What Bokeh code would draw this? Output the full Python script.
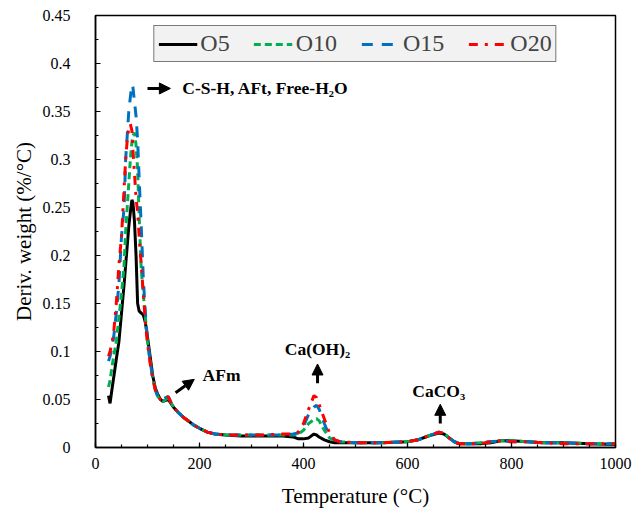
from bokeh.plotting import figure
from bokeh.models import (Range1d, SingleIntervalTicker, CustomJSTickFormatter, Legend,
                          LegendItem, Label, Arrow, NormalHead)
from bokeh.embed import file_html
from bokeh.resources import INLINE

temperature = [25, 28, 32, 35, 40, 45, 50, 55, 58, 61, 64, 67, 70, 72, 75, 78, 81, 84, 88,
               92, 96, 100, 105, 110, 115, 120, 125, 130, 135, 140, 145, 150, 160, 170, 180,
               190, 200, 215, 230, 250, 280, 320, 360, 380, 390, 400, 410, 420, 425, 430,
               440, 450, 460, 470, 500, 550, 600, 620, 640, 660, 670, 680, 690, 700, 720,
               740, 760, 780, 800, 830, 860, 900, 950, 1000]

o5 = [0.054, 0.046, 0.062, 0.073, 0.092, 0.11, 0.14, 0.17, 0.19, 0.21, 0.23, 0.245, 0.258,
      0.255, 0.235, 0.2, 0.15, 0.142, 0.14, 0.138, 0.13, 0.115, 0.095, 0.075, 0.062, 0.055,
      0.05, 0.048, 0.049, 0.05, 0.046, 0.042, 0.036, 0.031, 0.027, 0.023, 0.02, 0.016, 0.014,
      0.013, 0.012, 0.012, 0.012, 0.011, 0.009, 0.009, 0.01, 0.014, 0.013, 0.011, 0.008,
      0.006, 0.005, 0.005, 0.005, 0.005, 0.006, 0.008, 0.012, 0.015, 0.014, 0.01, 0.006,
      0.004, 0.004, 0.004, 0.005, 0.007, 0.007, 0.006, 0.005, 0.005, 0.004, 0.003]

o10 = [0.063, 0.07, 0.085, 0.095, 0.11, 0.135, 0.16, 0.19, 0.225, 0.25, 0.275, 0.3, 0.318,
       0.325, 0.328, 0.315, 0.29, 0.24, 0.185, 0.16, 0.135, 0.11, 0.09, 0.073, 0.06, 0.053,
       0.05, 0.048, 0.05, 0.052, 0.047, 0.042, 0.036, 0.031, 0.027, 0.023, 0.02, 0.016, 0.014,
       0.013, 0.013, 0.013, 0.013, 0.013, 0.014, 0.018, 0.025, 0.029, 0.03, 0.028, 0.018,
       0.01, 0.007, 0.006, 0.005, 0.005, 0.006, 0.008, 0.012, 0.016, 0.015, 0.01, 0.006,
       0.004, 0.004, 0.005, 0.006, 0.007, 0.007, 0.006, 0.005, 0.005, 0.004, 0.004]

o15 = [0.09, 0.095, 0.105, 0.115, 0.14, 0.17, 0.22, 0.25, 0.3, 0.325, 0.35, 0.365, 0.378,
       0.375, 0.36, 0.345, 0.32, 0.28, 0.23, 0.175, 0.14, 0.112, 0.09, 0.073, 0.06, 0.053,
       0.05, 0.05, 0.052, 0.053, 0.047, 0.042, 0.036, 0.031, 0.027, 0.023, 0.02, 0.016, 0.014,
       0.013, 0.013, 0.013, 0.013, 0.014, 0.015, 0.022, 0.035, 0.042, 0.044, 0.04, 0.025,
       0.012, 0.008, 0.006, 0.005, 0.005, 0.006, 0.008, 0.012, 0.016, 0.015, 0.01, 0.006,
       0.004, 0.004, 0.005, 0.006, 0.007, 0.006, 0.006, 0.005, 0.005, 0.004, 0.004]

o20 = [0.095, 0.1, 0.11, 0.12, 0.15, 0.19, 0.22, 0.27, 0.3, 0.32, 0.333, 0.337, 0.33, 0.31,
       0.285, 0.26, 0.245, 0.22, 0.19, 0.16, 0.13, 0.108, 0.088, 0.072, 0.06, 0.053, 0.05,
       0.049, 0.052, 0.053, 0.047, 0.042, 0.036, 0.031, 0.027, 0.023, 0.02, 0.016, 0.014,
       0.013, 0.013, 0.013, 0.014, 0.014, 0.016, 0.025, 0.04, 0.054, 0.052, 0.045, 0.03,
       0.015, 0.008, 0.006, 0.005, 0.005, 0.006, 0.008, 0.012, 0.016, 0.015, 0.01, 0.005,
       0.004, 0.004, 0.004, 0.006, 0.007, 0.006, 0.006, 0.005, 0.004, 0.004, 0.004]

series_names = ["O5", "O10", "O15", "O20"]
series_values = [o5, o10, o15, o20]
series_colors = ["#000000", "#00b050", "#0070c0", "#ff0000"]
series_dashes = ["solid", "7 4", "11 9", "9 7 3 7"]

x_ticks_interval = 200
y_ticks_interval = 0.05

FONT = "Liberation Serif"

p = figure(width=635, height=513, output_backend="svg", toolbar_location=None,
           x_range=Range1d(0, 1000), y_range=Range1d(0, 0.45),
           min_border_left=95, min_border_right=20, min_border_top=15, min_border_bottom=66)
p.xgrid.visible = False
p.ygrid.visible = False
p.outline_line_color = "black"
p.outline_line_width = 1.5
p.background_fill_color = "white"

items = []
for name, vals, col, dash in zip(series_names, series_values, series_colors, series_dashes):
    r = p.line(temperature, vals, line_color=col, line_width=3, line_dash=dash)
    items.append(LegendItem(label=name, renderers=[r]))

p.xaxis.ticker = SingleIntervalTicker(interval=x_ticks_interval, num_minor_ticks=4)
p.yaxis.ticker = SingleIntervalTicker(interval=y_ticks_interval, num_minor_ticks=2)
p.yaxis.formatter = CustomJSTickFormatter(code="return String(parseFloat(tick.toFixed(3)));")

for ax in (p.xaxis[0], p.yaxis[0]):
    ax.axis_line_width = 1.5
    ax.major_tick_in = 5
    ax.major_tick_out = 0
    ax.minor_tick_in = 3
    ax.minor_tick_out = 0
    ax.major_tick_line_width = 1.2
    ax.minor_tick_line_width = 1.2
    ax.major_label_text_font = FONT
    ax.major_label_text_font_size = "16px"
    ax.major_label_text_color = "black"
    ax.axis_label_text_font = FONT
    ax.axis_label_text_font_size = "21px"
    ax.axis_label_text_font_style = "normal"
    ax.axis_label_text_color = "black"

p.xaxis.axis_label = "Temperature (°C)"
p.yaxis.axis_label = "Deriv. weight (%/°C)"
p.xaxis.major_label_standoff = 10
p.xaxis.axis_label_standoff = 12
p.yaxis.major_label_standoff = 25
p.yaxis.axis_label_standoff = 4

legend = Legend(items=items, orientation="horizontal", location="top_center",
                margin=10, padding=4, spacing=24, glyph_width=39, glyph_height=20,
                label_standoff=3, label_text_font=FONT, label_text_font_size="24px",
                label_height=24,
                background_fill_color="#f2f2f2", background_fill_alpha=1.0,
                border_line_color="black", border_line_width=1.5)
p.add_layout(legend)

annotations = [
    ("C-S-H, AFt, Free-H₂O", 167, 0.374, "left"),
    ("AFm", 206, 0.076, "left"),
    ("Ca(OH)₂", 427, 0.103, "center"),
    ("CaCO₃", 660, 0.059, "center"),
]
for txt, ax_, ay, align in annotations:
    p.add_layout(Label(x=ax_, y=ay, text=txt, text_font=FONT, text_font_size="17.5px",
                       text_font_style="bold", text_align=align, text_baseline="middle",
                       text_color="black"))

arrows = [
    (100, 0.374, 144, 0.374),
    (154, 0.057, 190, 0.071),
    (427, 0.067, 427, 0.087),
    (663, 0.025, 663, 0.045),
]
for xs, ys, xe, ye in arrows:
    p.add_layout(Arrow(end=NormalHead(size=11, fill_color="black", line_color="black"),
                       x_start=xs, y_start=ys, x_end=xe, y_end=ye,
                       line_width=3, line_color="black"))

open("out.html", "w").write(file_html(p, INLINE))
